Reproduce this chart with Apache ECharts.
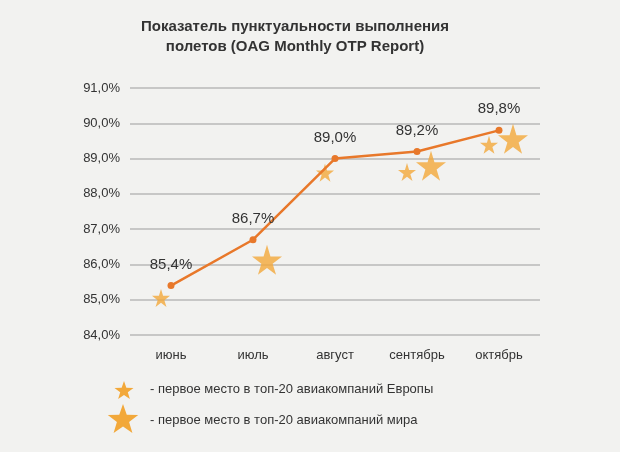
<!DOCTYPE html>
<html><head><meta charset="utf-8">
<script src="https://cdn.jsdelivr.net/npm/echarts@6/dist/echarts.min.js"></script>
<style>html,body{margin:0;background:#f2f2f0}#c{width:620px;height:452px}</style>
</head><body><div id="c"></div>
<script>
const categories = ['июнь','июль','август','сентябрь','октябрь'];
const otp = [85.4, 86.7, 89.0, 89.2, 89.8];
const yTicks = [84, 85, 86, 87, 88, 89, 90, 91];
// stars: [category index, y position value]
const europeStars = [[0, 85.05], [2, 88.6], [3, 88.62], [4, 89.39]];
const worldStars = [[1, 86.13], [3, 88.8], [4, 89.56]];

const STAR = 'path://M50,0 L61,35 L98,35 L68,57 L79,91 L50,70 L21,91 L32,57 L2,35 L39,35 Z';
function starPts(cx, cy, r) {
  const pts = [];
  for (let i = 0; i < 10; i++) {
    const a = -Math.PI / 2 + i * Math.PI / 5;
    const rr = i % 2 ? r * 0.4 : r;
    pts.push([cx + rr * Math.cos(a), cy + rr * Math.sin(a)]);
  }
  return pts;
}
const fmt = v => v.toFixed(1).replace('.', ',') + '%';
const chart = echarts.init(document.getElementById('c'));
chart.setOption({
  backgroundColor: '#f2f2f0',
  title: {
    text: 'Показатель пунктуальности выполнения\nполетов (OAG Monthly OTP Report)',
    left: 290, top: 12, textAlign: 'center',
    textStyle: {fontFamily: 'Liberation Sans', fontSize: 15, fontWeight: 'bold', color: '#333', lineHeight: 20}
  },
  grid: {left: 130, right: 80, top: 88, bottom: 117},
  xAxis: {
    type: 'category', data: categories, boundaryGap: true,
    axisLine: {show: false}, axisTick: {show: false},
    axisLabel: {fontFamily: 'Liberation Sans', fontSize: 13, color: '#333', margin: 14}
  },
  yAxis: {
    type: 'value', min: 84, max: 91, interval: 1,
    axisLabel: {formatter: v => fmt(v), fontFamily: 'Liberation Sans', fontSize: 13, color: '#333', margin: 10},
    splitLine: {lineStyle: {color: '#b8b8b8', width: 1.5}},
    axisLine: {show: false}, axisTick: {show: false}
  },
  series: [
    {
      type: 'line', data: otp, symbol: 'circle', symbolSize: 7,
      lineStyle: {color: '#e8782a', width: 2.5}, itemStyle: {color: '#e8782a'},
      label: {show: true, position: 'top', formatter: p => fmt(p.value), distance: 10,
        fontFamily: 'Liberation Sans', fontSize: 15, color: '#333'},
      z: 3
    },
    {
      type: 'scatter', data: europeStars, symbol: STAR,
      symbolSize: 18, symbolOffset: [-10, 0], itemStyle: {color: '#f2a83a'}
    },
    {
      type: 'scatter', data: worldStars, symbol: STAR,
      symbolSize: 30, symbolOffset: [14, 0], itemStyle: {color: '#f2a83a'}
    }
  ],
  graphic: [
    {type: 'polygon', shape: {points: starPts(124, 391, 10)}, style: {fill: '#f2a83a'}},
    {type: 'text', left: 150, top: 383, style: {text: '- первое место в топ-20 авиакомпаний Европы', font: '13px Liberation Sans', fill: '#333'}},
    {type: 'polygon', shape: {points: starPts(123, 420, 16)}, style: {fill: '#f2a83a'}},
    {type: 'text', left: 150, top: 414, style: {text: '- первое место в топ-20 авиакомпаний мира', font: '13px Liberation Sans', fill: '#333'}}
  ]
});
</script></body></html>
